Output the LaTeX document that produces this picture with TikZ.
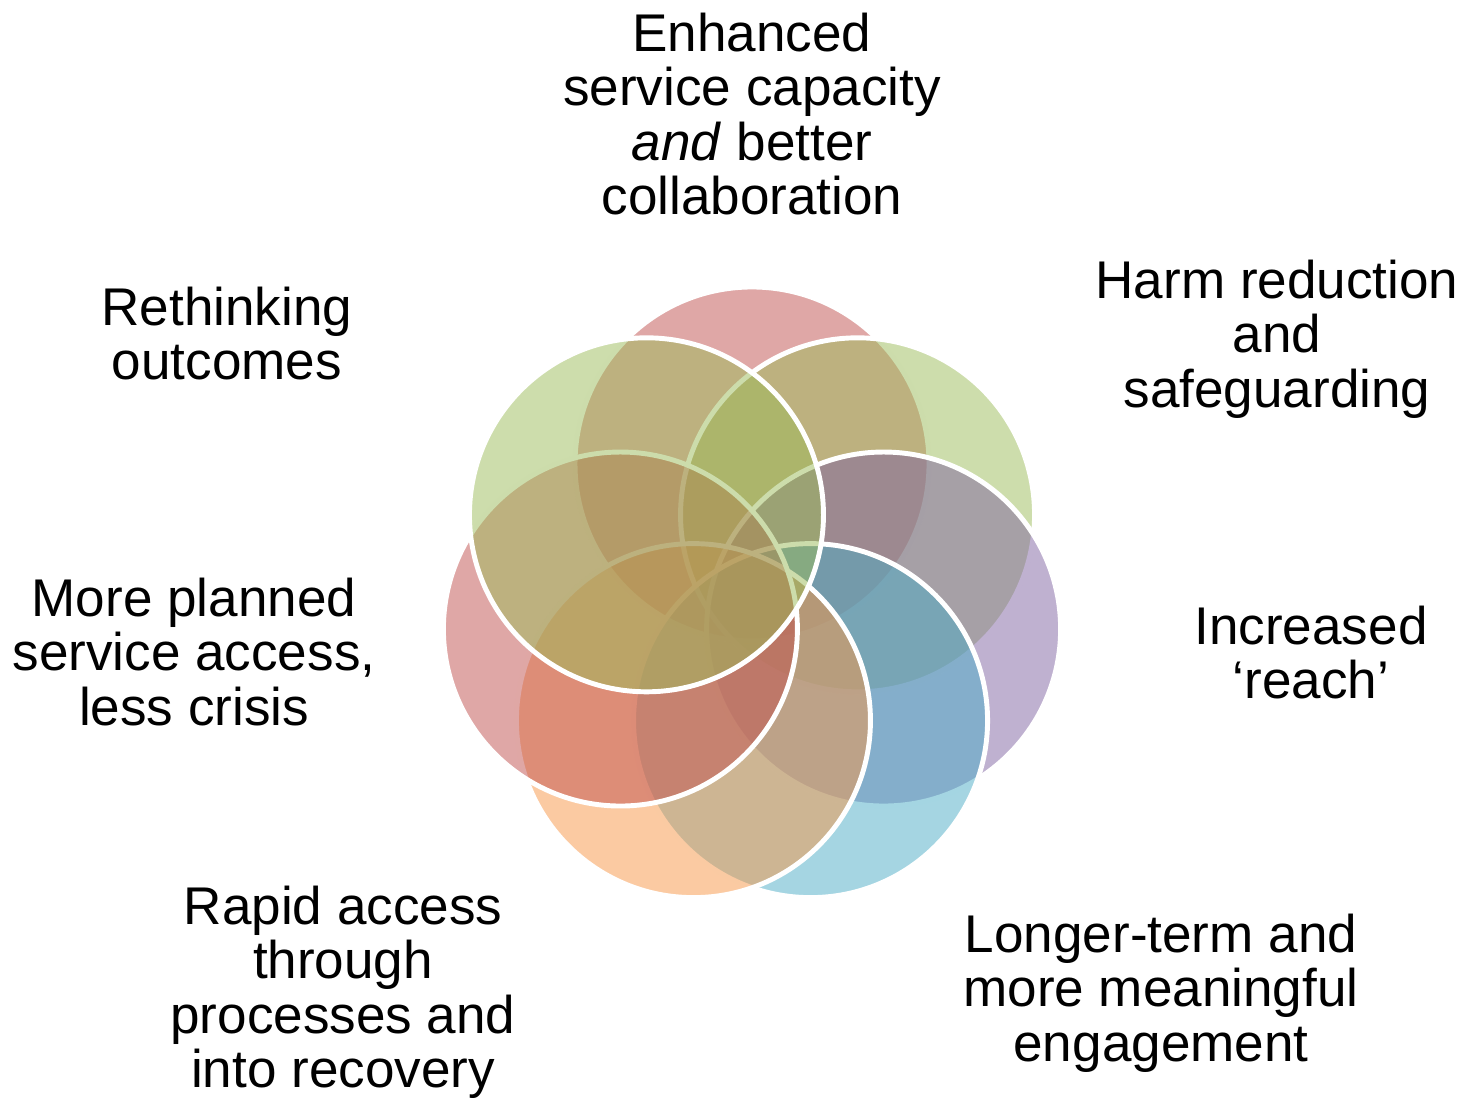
\documentclass[tikz,border=0pt]{standalone}
\usepackage{fontspec}
\setmainfont{Liberation Sans}
\definecolor{rot}{HTML}{C0504D}
\definecolor{oliv}{HTML}{9BBB59}
\definecolor{lila}{HTML}{8064A2}
\definecolor{aqua}{HTML}{4BACC6}
\definecolor{orangeton}{HTML}{F79646}
\tikzset{
	kreis/.style={draw=white, line width=1.4pt, fill opacity=0.5},
	label/.style={align=center, inner sep=0pt, anchor=north, font=\fontsize{15.1}{15.5}\selectfont}
}
\begin{document}
\begin{tikzpicture}
		\useasboundingbox (0,0) rectangle (14.7,10.98);
		% Kreise, im Uhrzeigersinn von oben
		\begin{scope}[shift={(7.52,4.99)}]
		\draw [kreis, fill=rot] (90:1.35) circle [radius=1.77];
		\draw [kreis, fill=oliv] (38.57:1.35) circle [radius=1.77];
		\draw [kreis, fill=lila] (-12.86:1.35) circle [radius=1.77];
		\draw [kreis, fill=aqua] (-64.29:1.35) circle [radius=1.77];
		\draw [kreis, fill=orangeton] (-115.71:1.35) circle [radius=1.77];
		\draw [kreis, fill=rot] (-167.14:1.35) circle [radius=1.77];
		\draw [kreis, fill=oliv] (141.43:1.35) circle [radius=1.77];
		\end{scope}
		% Beschriftungen
		\node [label] (capacity) at (7.52,10.86) {Enhanced\\service capacity\\\textit{and} better\\collaboration};
		\node [label] (harm) at (12.77,8.39) {Harm reduction\\and\\safeguarding};
		\node [label] (reach) at (13.11,4.93) {Increased\\‘reach’};
		\node [label] (engagement) at (11.61,1.85) {Longer-term and\\more meaningful\\engagement};
		\node [label] (rapid) at (3.43,2.13) {Rapid access\\through\\processes and\\into recovery};
		\node [label] (planned) at (1.94,5.21) {More planned\\service access,\\less crisis};
		\node [label] (outcomes) at (2.27,8.12) {Rethinking\\outcomes};
\end{tikzpicture}
\end{document}
